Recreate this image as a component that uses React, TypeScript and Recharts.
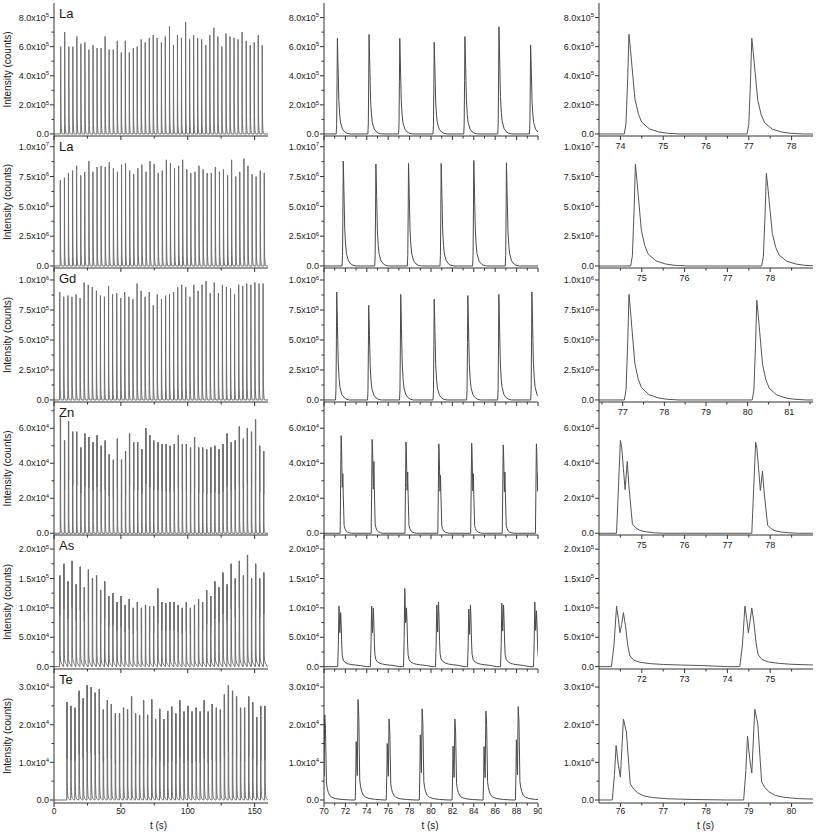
import React from 'react';
import { LineChart, Line, XAxis, YAxis } from 'recharts';

// ---------------- Row labels ----------------
const ROW_LABELS = ['La', 'La', 'Gd', 'Zn', 'As', 'Te'];

// ---------------- Column 1: full run (0–160 s) ----------------
const LA1_FULL_T = [5.0, 8.0, 11.1, 14.1, 17.1, 20.1, 23.1, 26.1, 29.2, 32.2, 35.2, 38.2, 41.2, 44.3, 47.3, 50.3, 53.3, 56.3, 59.3, 62.2, 65.2, 68.2, 71.25, 74.2, 77.1, 80.3, 83.2, 86.35, 89.3, 92.3, 95.3, 98.4, 101.4, 104.4, 107.4, 110.4, 113.5, 116.5, 119.5, 122.5, 125.5, 128.6, 131.6, 134.6, 137.6, 140.6, 143.7, 146.7, 149.7, 152.7, 155.7];
const LA1_FULL_H = [6.0e5, 7.0e5, 6.0e5, 6.0e5, 6.7e5, 6.2e5, 6.3e5, 5.8e5, 6.1e5, 5.9e5, 5.9e5, 6.7e5, 5.8e5, 5.8e5, 6.4e5, 5.6e5, 6.4e5, 5.6e5, 5.9e5, 6.0e5, 6.5e5, 6.3e5, 6.6e5, 6.8e5, 6.6e5, 6.3e5, 6.7e5, 7.4e5, 6.1e5, 6.8e5, 6.6e5, 7.7e5, 6.5e5, 6.8e5, 6.6e5, 6.5e5, 6.1e5, 6.8e5, 7.3e5, 6.7e5, 6.0e5, 6.9e5, 6.7e5, 6.6e5, 6.5e5, 7.0e5, 6.4e5, 6.1e5, 6.3e5, 6.8e5, 6.1e5];

const LA2_FULL_T = [4.7, 7.8, 10.8, 13.9, 16.9, 20.0, 23.0, 26.1, 29.1, 32.2, 35.2, 38.3, 41.3, 44.4, 47.4, 50.5, 53.5, 56.6, 59.6, 62.7, 65.7, 68.8, 71.8, 74.85, 77.9, 80.95, 84.0, 87.05, 90.1, 93.2, 96.2, 99.3, 102.3, 105.4, 108.4, 111.5, 114.5, 117.6, 120.6, 123.7, 126.7, 129.8, 132.8, 135.9, 138.9, 142.0, 145.0, 148.1, 151.1, 154.2, 157.2];
const LA2_FULL_H = [7.2e6, 7.4e6, 7.8e6, 8.0e6, 8.4e6, 7.6e6, 7.9e6, 8.8e6, 7.9e6, 8.3e6, 8.4e6, 8.3e6, 8.7e6, 8.2e6, 7.9e6, 8.5e6, 8.6e6, 8.0e6, 7.7e6, 8.2e6, 8.5e6, 7.9e6, 8.8e6, 8.55e6, 7.8e6, 8.0e6, 8.9e6, 8.6e6, 8.2e6, 8.4e6, 8.9e6, 8.1e6, 7.8e6, 7.9e6, 8.4e6, 8.1e6, 7.8e6, 7.8e6, 8.3e6, 7.9e6, 8.1e6, 7.6e6, 8.9e6, 7.5e6, 7.9e6, 9.0e6, 8.4e6, 7.7e6, 7.5e6, 8.0e6, 7.8e6];

const GD_FULL_T = [4.3, 7.3, 10.4, 13.4, 16.5, 19.5, 22.5, 25.6, 28.6, 31.7, 34.7, 37.7, 40.8, 43.8, 46.9, 49.9, 52.9, 56.0, 59.0, 62.1, 65.1, 68.1, 71.2, 74.2, 77.2, 80.35, 83.45, 86.35, 89.45, 92.5, 95.5, 98.5, 101.6, 104.6, 107.7, 110.7, 113.7, 116.8, 119.8, 122.9, 125.9, 128.9, 132.0, 135.0, 138.1, 141.1, 144.1, 147.2, 150.2, 153.3, 156.3];
const GD_FULL_H = [9.0e5, 8.6e5, 8.7e5, 8.6e5, 8.8e5, 8.5e5, 9.8e5, 9.6e5, 9.4e5, 9.1e5, 8.7e5, 8.6e5, 9.5e5, 8.8e5, 8.9e5, 8.5e5, 9.0e5, 8.6e5, 8.4e5, 9.7e5, 9.1e5, 8.6e5, 9.0e5, 7.9e5, 8.8e5, 8.4e5, 8.7e5, 8.8e5, 9.0e5, 9.4e5, 9.6e5, 9.4e5, 8.6e5, 9.6e5, 9.1e5, 9.6e5, 9.9e5, 8.9e5, 9.8e5, 8.9e5, 9.6e5, 9.4e5, 9.3e5, 8.8e5, 9.6e5, 9.5e5, 9.7e5, 9.6e5, 9.8e5, 9.7e5, 9.7e5];

const ZN_FULL_T = [4.75, 7.8, 10.8, 13.9, 16.9, 20.0, 23.0, 26.0, 29.1, 32.1, 35.2, 38.2, 41.2, 44.3, 47.3, 50.4, 53.4, 56.4, 59.5, 62.5, 65.6, 68.6, 71.6, 74.5, 77.66, 80.73, 83.8, 86.75, 89.85, 92.9, 95.9, 98.9, 102.0, 105.0, 108.1, 111.1, 114.1, 117.2, 120.2, 123.3, 126.3, 129.3, 132.4, 135.4, 138.5, 141.5, 144.5, 147.6, 150.6, 153.7, 156.7];
const ZN_FULL_H = [6.6e4, 5.3e4, 6.4e4, 5.8e4, 5.8e4, 4.9e4, 5.7e4, 5.5e4, 5.2e4, 5.6e4, 5.0e4, 5.3e4, 4.5e4, 4.2e4, 5.4e4, 4.2e4, 4.7e4, 5.7e4, 5.2e4, 5.2e4, 4.8e4, 6.0e4, 5.6e4, 5.3e4, 5.2e4, 5.1e4, 5.1e4, 5.0e4, 5.1e4, 5.6e4, 5.1e4, 5.1e4, 4.9e4, 5.5e4, 4.9e4, 4.9e4, 4.8e4, 4.9e4, 5.0e4, 4.8e4, 5.1e4, 5.7e4, 5.2e4, 5.3e4, 6.1e4, 5.4e4, 6.0e4, 5.8e4, 6.5e4, 5.0e4, 4.7e4];

const AS_FULL_T = [4.3, 7.35, 10.4, 13.45, 16.5, 19.55, 22.6, 25.65, 28.7, 31.75, 34.8, 37.85, 40.9, 43.95, 47.0, 50.05, 53.1, 56.15, 59.2, 62.25, 65.3, 68.35, 71.4, 74.45, 77.55, 80.54, 83.53, 86.62, 89.7, 92.75, 95.8, 98.85, 101.9, 104.95, 108.0, 111.05, 114.1, 117.15, 120.2, 123.25, 126.3, 129.35, 132.4, 135.45, 138.5, 141.55, 144.6, 147.65, 150.7, 153.75, 156.8];
const AS_FULL_H = [1.55e5, 1.75e5, 1.45e5, 1.8e5, 1.4e5, 1.7e5, 1.35e5, 1.65e5, 1.5e5, 1.55e5, 1.3e5, 1.45e5, 1.2e5, 1.25e5, 1.1e5, 1.2e5, 1.05e5, 1.15e5, 1.0e5, 1.1e5, 1.0e5, 1.05e5, 1.03e5, 1.03e5, 1.33e5, 1.1e5, 1.08e5, 1.1e5, 1.1e5, 1.05e5, 1.0e5, 1.1e5, 1.0e5, 1.05e5, 1.15e5, 1.1e5, 1.3e5, 1.2e5, 1.45e5, 1.35e5, 1.6e5, 1.4e5, 1.75e5, 1.5e5, 1.8e5, 1.55e5, 1.9e5, 1.5e5, 1.75e5, 1.5e5, 1.6e5];

const TE_FULL_T = [9.6, 12.6, 15.6, 18.7, 21.7, 24.7, 27.7, 30.7, 33.8, 36.8, 39.8, 42.8, 45.8, 48.9, 51.9, 54.9, 57.9, 60.9, 63.9, 66.9, 69.9, 73.0, 75.9, 79.0, 82.06, 84.96, 87.98, 91.0, 94.0, 97.1, 100.1, 103.1, 106.2, 109.2, 112.2, 115.2, 118.2, 121.3, 124.3, 127.3, 130.3, 133.4, 136.4, 139.4, 142.4, 145.5, 148.5, 151.5, 154.5, 157.6];
const TE_FULL_H = [2.6e4, 2.5e4, 2.45e4, 2.9e4, 2.7e4, 3.05e4, 3.0e4, 2.85e4, 2.95e4, 2.4e4, 2.65e4, 2.55e4, 2.3e4, 2.3e4, 2.45e4, 2.4e4, 2.75e4, 2.3e4, 2.25e4, 2.65e4, 2.26e4, 2.67e4, 2.15e4, 2.42e4, 2.15e4, 2.36e4, 2.48e4, 2.3e4, 2.65e4, 2.35e4, 2.5e4, 2.35e4, 2.45e4, 2.35e4, 2.65e4, 2.35e4, 2.55e4, 2.45e4, 2.4e4, 2.8e4, 3.05e4, 2.9e4, 2.75e4, 2.45e4, 2.45e4, 2.75e4, 2.6e4, 2.2e4, 2.5e4, 2.5e4];

// ---------------- Column 2: 70–90 s ----------------
const LA1_MID_T = [71.25, 74.21, 77.08, 80.3, 83.17, 86.35, 89.31];
const LA1_MID_H = [6.57e5, 6.84e5, 6.57e5, 6.3e5, 6.69e5, 7.37e5, 6.12e5];
const LA2_MID_T = [71.8, 74.85, 77.9, 80.95, 84.0, 87.05];
const LA2_MID_H = [8.8e6, 8.55e6, 8.6e6, 8.6e6, 8.85e6, 8.65e6];
const GD_MID_T = [71.19, 74.18, 77.17, 80.3, 83.44, 86.34, 89.43];
const GD_MID_H = [9.0e5, 7.9e5, 8.8e5, 8.4e5, 8.7e5, 8.8e5, 9.0e5];
const ZN_MID_T = [71.6, 74.5, 77.66, 80.73, 83.8, 86.75, 89.85];
const ZN_MID_H1 = [5.58e4, 5.36e4, 5.22e4, 5.11e4, 5.15e4, 5.05e4, 5.11e4];
const ZN_MID_H2 = [3.4e4, 4.1e4, 3.5e4, 3.3e4, 3.4e4, 3.5e4, 3.4e4];
const AS_MID_T = [71.4, 74.45, 77.55, 80.54, 83.53, 86.62, 89.7];
const AS_MID_H1 = [1.03e5, 1.03e5, 1.33e5, 1.05e5, 0.98e5, 1.08e5, 1.1e5];
const AS_MID_H2 = [0.92e5, 1.0e5, 1.0e5, 1.1e5, 1.05e5, 1.05e5, 0.95e5];
const TE_MID_T = [69.9, 73.01, 75.91, 79.0, 82.06, 84.96, 87.98];
const TE_MID_H1 = [1.5e4, 1.55e4, 1.5e4, 1.73e4, 1.43e4, 1.42e4, 1.6e4];
const TE_MID_H2 = [2.26e4, 2.67e4, 2.15e4, 2.42e4, 2.15e4, 2.36e4, 2.48e4];

// ---------------- Column 3: two-peak detail ----------------
const LA1_DET_T = [74.2, 77.07];
const LA1_DET_H = [6.85e5, 6.58e5];
const LA2_DET_T = [74.85, 77.91];
const LA2_DET_H = [8.53e6, 7.77e6];
const GD_DET_T = [77.15, 80.22];
const GD_DET_H = [8.8e5, 8.3e5];
const ZN_DET_T = [74.5, 77.66];
const ZN_DET_H1 = [5.3e4, 5.2e4];
const ZN_DET_H2 = [4.1e4, 3.54e4];
const AS_DET_T = [71.41, 74.41];
const AS_DET_H1 = [1.03e5, 1.03e5];
const AS_DET_H2 = [0.92e5, 1.0e5];
const TE_DET_T = [75.9, 78.97];
const TE_DET_H1 = [1.45e4, 1.7e4];
const TE_DET_H2 = [2.15e4, 2.41e4];

// ---------------- Peak profiles ----------------
// dt: offset from the (first) maximum in s; a: fraction of first height; b: fraction of second height
const SHAPE_SINGLE = {
  dt: [-0.11, -0.07, -0.03, 0, 0.035, 0.07, 0.14, 0.22, 0.3, 0.48, 0.7, 0.9, 1.2],
  a: [0, 0.1, 0.55, 1, 0.85, 0.68, 0.35, 0.2, 0.117, 0.05, 0.02, 0.007, 0],
};
const SHAPE_ZN = {
  dt: [-0.09, -0.045, 0, 0.03, 0.07, 0.11, 0.16, 0.2, 0.28, 0.35, 0.45, 0.6, 0.8, 1.0],
  a: [0, 0.5, 1, 0.93, 0.7, 0.47, 0, 0, 0, 0, 0, 0, 0, 0],
  b: [0, 0, 0, 0, 0, 0, 1, 0.65, 0.13, 0.08, 0.04, 0.02, 0.006, 0],
};
const SHAPE_AS = {
  dt: [-0.12, -0.06, 0, 0.04, 0.08, 0.12, 0.16, 0.21, 0.26, 0.31, 0.4, 0.55, 0.8, 1.1, 1.5, 2.0, 2.6],
  a: [0, 0.35, 1, 0.8, 0.56, 0, 0, 0, 0, 0, 0, 0, 0, 0, 0, 0, 0],
  b: [0, 0, 0, 0, 0, 0.78, 1, 0.75, 0.4, 0.2, 0.12, 0.08, 0.055, 0.04, 0.03, 0.02, 0],
};
const SHAPE_TE = {
  dt: [-0.09, -0.04, 0, 0.05, 0.1, 0.17, 0.24, 0.33, 0.4, 0.5, 0.65, 0.85, 1.2, 1.8, 2.6],
  a: [0, 0.45, 1, 0.65, 0.42, 0, 0, 0, 0, 0, 0, 0, 0, 0, 0],
  b: [0, 0, 0, 0, 0, 1, 0.84, 0.2, 0.14, 0.09, 0.05, 0.03, 0.015, 0.006, 0],
};

// ---------------- Axis ticks ----------------
const Y_MAJOR = [
  [0, 2e5, 4e5, 6e5, 8e5],
  [0, 2.5e6, 5e6, 7.5e6, 1e7],
  [0, 2.5e5, 5e5, 7.5e5, 1e6],
  [0, 2e4, 4e4, 6e4],
  [0, 5e4, 1e5, 1.5e5, 2e5],
  [0, 1e4, 2e4, 3e4],
];
const Y_MINOR = [
  [1e5, 3e5, 5e5, 7e5],
  [1.25e6, 3.75e6, 6.25e6, 8.75e6],
  [1.25e5, 3.75e5, 6.25e5, 8.75e5],
  [1e4, 3e4, 5e4, 7e4],
  [2.5e4, 7.5e4, 1.25e5, 1.75e5],
  [5e3, 1.5e4, 2.5e4],
];
const Y_DOMAIN = [
  [-1.4e4, 9.0e5],
  [-1.7e5, 1.09e7],
  [-1.7e4, 1.1e6],
  [-1000, 7.5e4],
  [-4000, 2.24e5],
  [-800, 3.48e4],
];

const FULL_DOMAIN = [0, 160];
const FULL_MAJOR = [0, 50, 100, 150];
const FULL_MINOR = [25, 75, 125];
const MID_DOMAIN = [70, 90];
const MID_MAJOR = [70, 72, 74, 76, 78, 80, 82, 84, 86, 88, 90];
const MID_MINOR = [71, 73, 75, 77, 79, 81, 83, 85, 87, 89];
const DET_DOMAIN = [
  [73.5, 78.5],
  [74, 79],
  [76.43, 81.57],
  [74, 79],
  [71, 76],
  [75.5, 80.5],
];
const DET_MAJOR = [
  [74, 75, 76, 77, 78],
  [75, 76, 77, 78],
  [77, 78, 79, 80, 81],
  [75, 76, 77, 78],
  [72, 73, 74, 75],
  [76, 77, 78, 79, 80],
];
const DET_MINOR = [
  [74.5, 75.5, 76.5, 77.5],
  [74.5, 75.5, 76.5, 77.5, 78.5],
  [76.5, 77.5, 78.5, 79.5, 80.5, 81.5],
  [74.5, 75.5, 76.5, 77.5, 78.5],
  [71.5, 72.5, 73.5, 74.5, 75.5],
  [76.5, 77.5, 78.5, 79.5],
];

// ---------------- Layout ----------------
const PLOT_W = 214;
const COL_LEFT = [54, 324, 599];
const ROW_TOP = [3, 136, 268, 402, 535, 669];
const ROW_BOTTOM = [136, 268, 402, 535, 669, 803];
const AXIS = '#333';
const TXT = '#1a1a1a';
const LINE_COLORS = ['#6e6e6e', '#4a4a4a', '#555'];
const FONT = '"Liberation Sans", Arial, Helvetica, sans-serif';

type Shape = { dt: number[]; a: number[]; b?: number[] };
type Pt = { t: number; v: number };

function buildTrace(times: number[], h1: number[], h2: number[] | null, shape: Shape): Pt[] {
  const pts: Pt[] = [{ t: -1000, v: 0 }];
  times.forEach((t0, i) => {
    shape.dt.forEach((d, k) => {
      const second = shape.b ? (h2 ? h2[i] : h1[i]) * shape.b[k] : 0;
      pts.push({ t: t0 + d, v: h1[i] * shape.a[k] + second });
    });
  });
  pts.push({ t: 1000, v: 0 });
  pts.sort((p, q) => p.t - q.t);
  return pts;
}

const FULL_DATA = [
  buildTrace(LA1_FULL_T, LA1_FULL_H, null, SHAPE_SINGLE),
  buildTrace(LA2_FULL_T, LA2_FULL_H, null, SHAPE_SINGLE),
  buildTrace(GD_FULL_T, GD_FULL_H, null, SHAPE_SINGLE),
  buildTrace(ZN_FULL_T, ZN_FULL_H, null, SHAPE_ZN),
  buildTrace(AS_FULL_T, AS_FULL_H, null, SHAPE_AS),
  buildTrace(TE_FULL_T, TE_FULL_H, null, SHAPE_TE),
];
const MID_DATA = [
  buildTrace(LA1_MID_T, LA1_MID_H, null, SHAPE_SINGLE),
  buildTrace(LA2_MID_T, LA2_MID_H, null, SHAPE_SINGLE),
  buildTrace(GD_MID_T, GD_MID_H, null, SHAPE_SINGLE),
  buildTrace(ZN_MID_T, ZN_MID_H1, ZN_MID_H2, SHAPE_ZN),
  buildTrace(AS_MID_T, AS_MID_H1, AS_MID_H2, SHAPE_AS),
  buildTrace(TE_MID_T, TE_MID_H1, TE_MID_H2, SHAPE_TE),
];
const DET_DATA = [
  buildTrace(LA1_DET_T, LA1_DET_H, null, SHAPE_SINGLE),
  buildTrace(LA2_DET_T, LA2_DET_H, null, SHAPE_SINGLE),
  buildTrace(GD_DET_T, GD_DET_H, null, SHAPE_SINGLE),
  buildTrace(ZN_DET_T, ZN_DET_H1, ZN_DET_H2, SHAPE_ZN),
  buildTrace(AS_DET_T, AS_DET_H1, AS_DET_H2, SHAPE_AS),
  buildTrace(TE_DET_T, TE_DET_H1, TE_DET_H2, SHAPE_TE),
];

function isMajor(v: number, majors: number[]) {
  return majors.some((m) => Math.abs(m - v) <= 1e-6 * Math.max(1, Math.abs(m)));
}

function sci(v: number): [string, number | null] {
  if (v === 0) return ['0.0', null];
  const e = Math.floor(Math.log10(Math.abs(v)) + 1e-9);
  const m = v / Math.pow(10, e);
  return [m.toFixed(1), e];
}

function makeXTick(majors: number[], showLabels: boolean, fontSize: number, labelDy: number) {
  return (props: any) => {
    const { x, y, payload } = props;
    const major = isMajor(payload.value, majors);
    return (
      <g>
        <line x1={x} x2={x} y1={y} y2={y + (major ? 4 : 2.5)} stroke={AXIS} strokeWidth={1} />
        {showLabels && major ? (
          <text x={x} y={y + labelDy} textAnchor="middle" fontSize={fontSize} fontFamily={FONT} fill={TXT}>
            {String(payload.value)}
          </text>
        ) : null}
      </g>
    );
  };
}

function makeYTick(majors: number[]) {
  return (props: any) => {
    const { x, y, payload } = props;
    const v = payload.value;
    const major = isMajor(v, majors);
    if (!major) {
      return <line x1={x - 2.5} x2={x} y1={y} y2={y} stroke={AXIS} strokeWidth={1} />;
    }
    const [m, e] = sci(v);
    return (
      <g>
        <line x1={x - 4} x2={x} y1={y} y2={y} stroke={AXIS} strokeWidth={1} />
        <text x={x - 5} y={y + 3.2} textAnchor="end" fontSize={9} fontFamily={FONT} fill={TXT}>
          {e === null ? m : `${m}x10`}
          {e === null ? null : (
            <tspan dy={-3.5} fontSize={6}>
              {String(e)}
            </tspan>
          )}
        </text>
      </g>
    );
  };
}

type PanelProps = {
  left: number;
  top: number;
  height: number;
  data: Pt[];
  color: string;
  xDomain: number[];
  xMajor: number[];
  xMinor: number[];
  showXLabels: boolean;
  xFont: number;
  xLabelDy: number;
  yDomain: number[];
  yMajor: number[];
  yMinor: number[];
};

function Panel(p: PanelProps) {
  const YW = 50;
  const MT = 2;
  const MR = 4;
  const XH = 24;
  const xTicks = [...p.xMajor, ...p.xMinor].sort((a, b) => a - b);
  const yTicks = [...p.yMajor, ...p.yMinor].sort((a, b) => a - b);
  return (
    <div style={{ position: 'absolute', left: p.left - YW, top: p.top - MT }}>
      <LineChart
        width={YW + PLOT_W + MR}
        height={MT + p.height + XH}
        data={p.data}
        margin={{ top: MT, right: MR, bottom: 0, left: 0 }}
      >
        <XAxis
          type="number"
          dataKey="t"
          domain={p.xDomain as [number, number]}
          allowDataOverflow
          ticks={xTicks}
          interval={0}
          height={XH}
          tickLine={false}
          tickSize={0}
          tickMargin={0}
          stroke={AXIS}
          tick={makeXTick(p.xMajor, p.showXLabels, p.xFont, p.xLabelDy)}
        />
        <XAxis
          xAxisId="top"
          orientation="top"
          type="number"
          dataKey="t"
          domain={p.xDomain as [number, number]}
          allowDataOverflow
          height={0}
          tick={false}
          tickLine={false}
          stroke={AXIS}
        />
        <YAxis
          type="number"
          domain={p.yDomain as [number, number]}
          allowDataOverflow
          ticks={yTicks}
          interval={0}
          width={YW}
          tickLine={false}
          tickSize={0}
          tickMargin={0}
          stroke={AXIS}
          tick={makeYTick(p.yMajor)}
        />
        <YAxis
          yAxisId="right"
          orientation="right"
          type="number"
          domain={p.yDomain as [number, number]}
          allowDataOverflow
          width={0}
          tick={false}
          tickLine={false}
          stroke={AXIS}
        />
        <Line
          type="linear"
          dataKey="v"
          stroke={p.color}
          strokeWidth={1}
          dot={false}
          activeDot={false}
          isAnimationActive={false}
        />
      </LineChart>
    </div>
  );
}

export default function App() {
  const panels: React.ReactNode[] = [];
  for (let r = 0; r < 6; r++) {
    const top = ROW_TOP[r];
    const height = ROW_BOTTOM[r] - ROW_TOP[r];
    const last = r === 5;
    panels.push(
      <Panel
        key={`full-${r}`}
        left={COL_LEFT[0]}
        top={top}
        height={height}
        data={FULL_DATA[r]}
        color={LINE_COLORS[0]}
        xDomain={FULL_DOMAIN}
        xMajor={FULL_MAJOR}
        xMinor={FULL_MINOR}
        showXLabels={last}
        xFont={8.5}
        xLabelDy={11}
        yDomain={Y_DOMAIN[r]}
        yMajor={Y_MAJOR[r]}
        yMinor={Y_MINOR[r]}
      />
    );
    panels.push(
      <Panel
        key={`mid-${r}`}
        left={COL_LEFT[1]}
        top={top}
        height={height}
        data={MID_DATA[r]}
        color={LINE_COLORS[1]}
        xDomain={MID_DOMAIN}
        xMajor={MID_MAJOR}
        xMinor={MID_MINOR}
        showXLabels={last}
        xFont={8.5}
        xLabelDy={11}
        yDomain={Y_DOMAIN[r]}
        yMajor={Y_MAJOR[r]}
        yMinor={Y_MINOR[r]}
      />
    );
    panels.push(
      <Panel
        key={`det-${r}`}
        left={COL_LEFT[2]}
        top={top}
        height={height}
        data={DET_DATA[r]}
        color={LINE_COLORS[2]}
        xDomain={DET_DOMAIN[r]}
        xMajor={DET_MAJOR[r]}
        xMinor={DET_MINOR[r]}
        showXLabels={true}
        xFont={last ? 8.5 : 9}
        xLabelDy={last ? 11 : 12.8}
        yDomain={Y_DOMAIN[r]}
        yMajor={Y_MAJOR[r]}
        yMinor={Y_MINOR[r]}
      />
    );
  }

  return (
    <div style={{ position: 'absolute', left: 0, top: 0, width: 817, height: 835, background: '#fff' }}>
      {panels}
      <svg
        width={817}
        height={835}
        style={{ position: 'absolute', left: 0, top: 0, pointerEvents: 'none' }}
      >
        {ROW_LABELS.map((lab, r) => {
          const cy = (ROW_TOP[r] + ROW_BOTTOM[r]) / 2;
          return (
            <g key={`lab-${r}`}>
              <text
                x={7.5}
                y={cy}
                transform={`rotate(-90 7.5 ${cy})`}
                textAnchor="middle"
                dominantBaseline="central"
                fontSize={10}
                fontFamily={FONT}
                fill={TXT}
              >
                Intensity (counts)
              </text>
              <text x={59} y={ROW_TOP[r] + 15} fontSize={13} fontFamily={FONT} fill={TXT}>
                {lab}
              </text>
            </g>
          );
        })}
        {[158.5, 430, 705.5].map((cx, i) => (
          <text key={`tx-${i}`} x={cx} y={828.5} textAnchor="middle" fontSize={10} fontFamily={FONT} fill={TXT}>
            t (s)
          </text>
        ))}
      </svg>
    </div>
  );
}
